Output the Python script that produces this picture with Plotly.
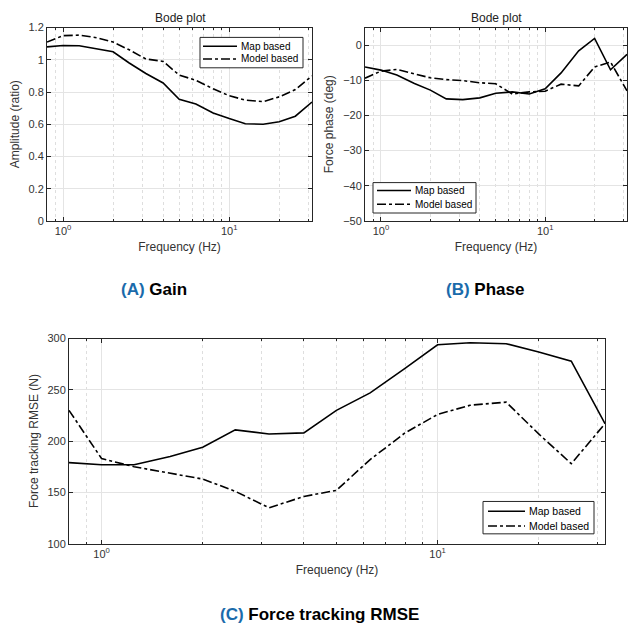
import plotly.graph_objects as go

# One-third octave test frequencies (Hz)
freq = [0.8, 1.0, 1.25, 1.6, 2.0, 2.5, 3.15, 4.0, 5.0, 6.3, 8.0, 10.0, 12.5, 16.0, 20.0, 25.0, 31.5]

# (A) Gain
gain_map = [1.08, 1.089, 1.087, 1.07, 1.05, 0.98, 0.915, 0.856, 0.755, 0.726, 0.67, 0.635, 0.603, 0.60, 0.615, 0.65, 0.738]
gain_model = [1.11, 1.15, 1.153, 1.137, 1.11, 1.062, 1.005, 0.99, 0.905, 0.873, 0.82, 0.777, 0.75, 0.74, 0.77, 0.815, 0.90]

# (B) Phase (deg)
phase_map = [-6.2, -7.1, -8.5, -10.9, -12.8, -15.3, -15.5, -15.0, -13.7, -13.3, -13.9, -12.4, -7.9, -1.6, 1.9, -7.0, -2.6]
phase_model = [-9.4, -7.4, -6.9, -8.1, -9.3, -9.8, -10.1, -10.7, -11.0, -13.9, -13.3, -13.1, -11.1, -11.6, -6.2, -4.8, -13.0]

# (C) Force tracking RMSE (N)
rmse_map = [179, 177, 177, 185, 194, 211, 207, 208, 230, 247, 271, 294, 296, 295, 287, 278, 217]
rmse_model = [230, 183, 175, 169, 163, 151, 135, 146, 152, 182, 208, 226, 235, 238, 207, 178, 217]

series_names = ["Map based", "Model based"]
series_dash = ["solid", "dashdot"]

W, H = 628, 635
FONT = "Liberation Sans, Arial, sans-serif"
AX = "#262626"
GRID = "#e4e4e4"
MINOR = "#dedede"
BLUE = "#1a6bab"
LW = 1.6

fig = go.Figure()


def px_x(v):
    return v / W


def px_y(v):
    return 1 - v / H


panels = [
    ("x", "y", gain_map, gain_model),
    ("x2", "y2", phase_map, phase_model),
    ("x3", "y3", rmse_map, rmse_model),
]

for xa, ya, s_map, s_model in panels:
    for name, dash, vals in zip(series_names, series_dash, [s_map, s_model]):
        fig.add_trace(go.Scatter(x=freq, y=vals, name=name, mode="lines",
                                 line=dict(color="black", width=LW, dash=dash),
                                 xaxis=xa, yaxis=ya, showlegend=False))

minor_vals = [0.9, 2, 3, 4, 5, 6, 7, 8, 9, 20, 30]


def xaxis_cfg(domain, anchor):
    return dict(
        type="log", domain=domain, anchor=anchor,
        range=[-0.09691, 1.49831],
        tickmode="array", tickvals=[1, 10],
        ticktext=["10<sup>0</sup>", "10<sup>1</sup>"],
        ticks="inside", ticklen=4, tickcolor=AX,
        showline=True, linecolor=AX, linewidth=1, mirror="allticks",
        showgrid=True, gridcolor=GRID, gridwidth=1,
        minor=dict(tickmode="array", tickvals=minor_vals, showgrid=True,
                   gridcolor=MINOR, griddash="dot", gridwidth=1,
                   ticks="inside", ticklen=2, tickcolor=AX),
        tickfont=dict(family=FONT, size=11, color="#333"),
        title=dict(text="Frequency (Hz)", font=dict(family=FONT, size=12, color="#333"), standoff=6),
        zeroline=False,
    )


def yaxis_cfg(domain, anchor, rng, dtick, title):
    return dict(
        domain=domain, anchor=anchor, range=rng,
        tickmode="linear", tick0=0, dtick=dtick,
        ticks="inside", ticklen=4, tickcolor=AX,
        showline=True, linecolor=AX, linewidth=1, mirror="allticks",
        showgrid=True, gridcolor=GRID, gridwidth=1,
        tickfont=dict(family=FONT, size=11, color="#333"),
        title=dict(text=title, font=dict(family=FONT, size=12, color="#333"), standoff=6),
        zeroline=False,
    )


dom_top = [px_y(219), px_y(22)]
dom_c = [px_y(548), px_y(339)]

fig.update_layout(
    width=W, height=H,
    margin=dict(l=0, r=0, t=0, b=0),
    paper_bgcolor="white", plot_bgcolor="white",
    font=dict(family=FONT, color="#333"),
    showlegend=False,
    xaxis=xaxis_cfg([px_x(47), px_x(312)], "y"),
    yaxis=yaxis_cfg(dom_top, "x", [0, 1.2], 0.2, "Amplitude (ratio)"),
    xaxis2=xaxis_cfg([px_x(365), px_x(627)], "y2"),
    yaxis2=yaxis_cfg(dom_top, "x2", [-50, 5], 10, "Force phase (deg)"),
    xaxis3=xaxis_cfg([px_x(69), px_x(605)], "y3"),
    yaxis3=yaxis_cfg(dom_c, "x3", [100, 300], 50, "Force tracking RMSE (N)"),
)

# Legend boxes (pixel layout): box x0, x1, y0, y1, sample x0, x1, text x, row y's, font size
legend_boxes = [
    (200, 303, 32, 63, 203, 237, 239, (41, 54), 10),
    (373, 476, 180, 211, 377, 411, 413, (188, 202), 10),
    (483, 594, 505, 538, 488, 525, 527, (515, 530), 10.5),
]

shapes = []
annotations = []
for bx0, bx1, by0, by1, sx0, sx1, tx, rows, fs in legend_boxes:
    shapes.append(dict(type="rect", xref="paper", yref="paper",
                       x0=px_x(bx0), x1=px_x(bx1), y0=px_y(by1), y1=px_y(by0),
                       line=dict(color=AX, width=1), fillcolor="white", layer="above"))
    for name, dash, ry in zip(series_names, series_dash, rows):
        shapes.append(dict(type="line", xref="paper", yref="paper",
                           x0=px_x(sx0), x1=px_x(sx1), y0=px_y(ry), y1=px_y(ry),
                           line=dict(color="black", width=LW, dash=dash), layer="above"))
        annotations.append(dict(text=name, x=px_x(tx), y=px_y(ry), xref="paper", yref="paper",
                                showarrow=False, xanchor="left", yanchor="middle",
                                font=dict(family=FONT, size=fs, color="black")))

for cx in (180, 496):
    annotations.append(dict(text="Bode plot", x=px_x(cx), y=px_y(12), xref="paper", yref="paper",
                            showarrow=False, xanchor="center", yanchor="middle",
                            font=dict(family=FONT, size=12, color="#222")))

captions = [
    ("(A)", "Gain", 154, 289),
    ("(B)", "Phase", 485, 289),
    ("(C)", "Force tracking RMSE", 319, 620),
]
for tag, label, cx, cy in captions:
    annotations.append(dict(
        text=f"<b><span style='color:{BLUE}'>{tag}</span> {label}</b>",
        x=px_x(cx), y=px_y(cy), xref="paper", yref="paper", showarrow=False,
        xanchor="center", yanchor="middle",
        font=dict(family=FONT, size=17, color="black"),
    ))

fig.update_layout(shapes=shapes, annotations=annotations)

fig.write_html("out.html")
